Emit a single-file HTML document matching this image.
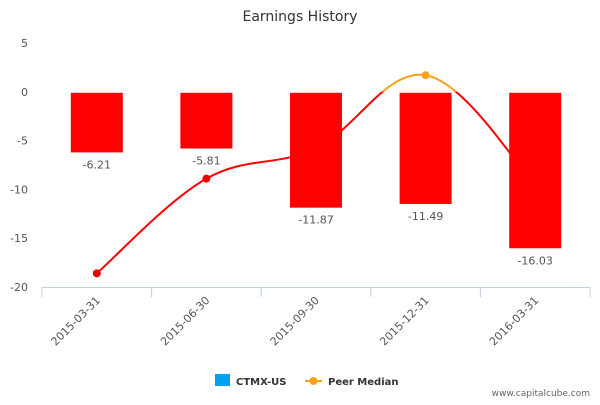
<!DOCTYPE html>
<html><head><meta charset="utf-8">
<style>
body{margin:0;background:#fff;font-family:"Liberation Sans","DejaVu Sans",sans-serif;}
svg text{font-family:"DejaVu Sans","Liberation Sans",sans-serif;}
</style></head>
<body>
<svg id="chart" width="600" height="400" xmlns="http://www.w3.org/2000/svg">
<text x="300" y="21" text-anchor="middle" font-size="14" fill="#333">Earnings History</text>
<g id="yaxis"></g>
<g id="xaxis"></g>
<g id="line"></g>
<g id="bars"></g>
<g>
<g>
<rect x="215" y="374" width="15" height="12" fill="#00a0f0"/>
<text x="236" y="385" font-size="10" font-weight="bold" fill="#333">CTMX-US</text></g>
<g>
<line x1="305" y1="381" x2="322" y2="381" stroke="#f7a21b" stroke-width="2"/>
<circle cx="313.5" cy="381" r="4" fill="#f7a21b"/>
<text x="328" y="385" font-size="10" font-weight="bold" fill="#333">Peer Median</text></g>
</g>
<text x="590" y="396" text-anchor="end" font-size="9" fill="#666">www.capitalcube.com</text>
</svg>
<script>
const categories=["2015-03-31","2015-06-30","2015-09-30","2015-12-31","2016-03-31"];
const ctmxValues=[-6.21,-5.81,-11.87,-11.49,-16.03];
const barLabels=["-6.21","-5.81","-11.87","-11.49","-16.03"];
const peerValues=[-18.6,-8.9,-5.8,1.7,-9.5];
const yTicks=[5,0,-5,-10,-15,-20];
const NS="http://www.w3.org/2000/svg";
const L=42,R=590,T=43,B=287,ymax=5,ymin=-20;
const band=(R-L)/categories.length;
const xc=i=>L+band*(i+0.5);
const y=v=>T+(ymax-v)/(ymax-ymin)*(B-T);
function mk(tag,attrs,parent){const e=document.createElementNS(NS,tag);for(const k in attrs)e.setAttribute(k,attrs[k]);parent.appendChild(e);return e;}
const ya=document.getElementById('yaxis');
yTicks.forEach(t=>{const e=mk('text',{x:28,y:y(t)+4,'text-anchor':'end','font-size':11,fill:'#555'},ya);e.textContent=t;

});
const xa=document.getElementById('xaxis');
mk('line',{x1:L,y1:B+0.5,x2:R,y2:B+0.5,stroke:'#c0d0e0'},xa);
for(let i=0;i<=categories.length;i++){mk('line',{x1:L+band*i,y1:B,x2:L+band*i,y2:B+10,stroke:'#c0d0e0'},xa);}
categories.forEach((c,i)=>{const e=mk('text',{x:xc(i)+4,y:B+14,'text-anchor':'end','font-size':11,fill:'#555',transform:`rotate(-45 ${xc(i)+4} ${B+14})`},xa);e.textContent=c;

});
// line
const lg=document.getElementById('line');
const pts=peerValues.map((v,i)=>[xc(i),y(v)]);
let d=`M${pts[0][0]},${pts[0][1]}`;
for(let i=0;i<pts.length-1;i++){const p0=pts[Math.max(i-1,0)],p1=pts[i],p2=pts[i+1],p3=pts[Math.min(i+2,pts.length-1)];
const t=0.18;const c1=[p1[0]+(p2[0]-p0[0])*t,p1[1]+(p2[1]-p0[1])*t],c2=[p2[0]-(p3[0]-p1[0])*t,p2[1]-(p3[1]-p1[1])*t];
d+=` C${c1[0]},${c1[1]} ${c2[0]},${c2[1]} ${p2[0]},${p2[1]}`;}
const defs=mk('defs',{},lg);
const ca=mk('clipPath',{id:'above'},defs);mk('rect',{x:0,y:0,width:600,height:y(0)},ca);
const cb=mk('clipPath',{id:'below'},defs);mk('rect',{x:0,y:y(0),width:600,height:400},cb);
mk('path',{d:d,fill:'none',stroke:'#f7a21b','stroke-width':2,'clip-path':'url(#above)'},lg);
mk('path',{d:d,fill:'none',stroke:'#ff0000','stroke-width':2,'clip-path':'url(#below)'},lg);
peerValues.forEach((v,i)=>{const c=mk('circle',{cx:xc(i),cy:y(v),r:4,fill:v>=0?'#f7a21b':'#ee0000'},lg);

});
// bars
const bg=document.getElementById('bars');
ctmxValues.forEach((v,i)=>{const y0=y(0)+1,y1=y(v);
const r=mk('rect',{x:xc(i)-26,y:y0,width:52,height:y1-y0,fill:'#ff0000'},bg);


const t=mk('text',{x:xc(i),y:y1+16,'text-anchor':'middle','font-size':11,fill:'#555'},bg);t.textContent=barLabels[i];

});
</script>
</body></html>
